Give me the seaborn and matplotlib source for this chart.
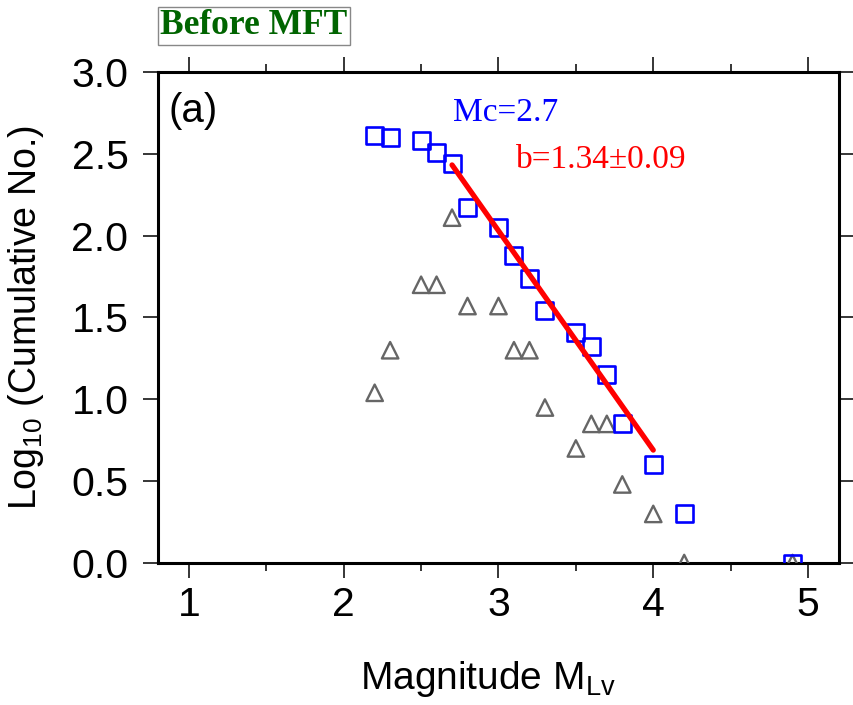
import numpy as np
import pandas as pd
import matplotlib
matplotlib.use("Agg")
import matplotlib.pyplot as plt
import seaborn as sns

# Magnitude bins (M_Lv)
magnitude = [2.2, 2.3, 2.5, 2.6, 2.7, 2.8, 3.0, 3.1, 3.2, 3.3, 3.5, 3.6, 3.7, 3.8, 4.0, 4.2, 4.9]
# log10 of cumulative number of events (M >= bin)
log_cumulative = [2.61, 2.60, 2.58, 2.51, 2.44, 2.17, 2.05, 1.88, 1.74, 1.54, 1.41, 1.32, 1.15, 0.85, 0.60, 0.30, 0.0]
# log10 of the number of events in each bin
log_noncumulative = [1.04, 1.30, 1.70, 1.70, 2.11, 1.57, 1.57, 1.30, 1.30, 0.95, 0.70, 0.85, 0.85, 0.48, 0.30, 0.0, 0.0]

# Gutenberg-Richter fit: log10 N = a - b M, for Mc <= M <= 4.0
mc = 2.7
b_value = 1.34
b_error = 0.09
a_value = 6.05
fit_range = [mc, 4.0]

sns.set_style("ticks")
plt.rcParams["font.family"] = ["Liberation Sans", "DejaVu Sans"]
plt.rcParams["mathtext.fontset"] = "custom"
plt.rcParams["mathtext.rm"] = "Liberation Sans"
plt.rcParams["mathtext.it"] = "Liberation Sans:italic"
plt.rcParams["text.color"] = "black"
plt.rcParams["axes.labelcolor"] = "black"
plt.rcParams["xtick.color"] = "black"
plt.rcParams["ytick.color"] = "black"

df = pd.DataFrame({"M": magnitude, "cum": log_cumulative, "non": log_noncumulative})
fit = pd.DataFrame({"M": fit_range})
fit["logN"] = a_value - b_value * fit["M"]

fig = plt.figure(figsize=(8.54, 7.05), dpi=100)
ax = fig.add_axes([0.185, 0.2014, 0.7974, 0.6965])

sns.scatterplot(data=df, x="M", y="non", marker="^", s=140, facecolor="none",
                edgecolor="#666666", linewidth=1.7, ax=ax, zorder=3)
sns.scatterplot(data=df, x="M", y="cum", marker="s", s=150, facecolor="none",
                edgecolor="#0000ff", linewidth=1.9, ax=ax, zorder=4)
sns.lineplot(data=fit, x="M", y="logN", color="#ff0000", linewidth=3.8, ax=ax, zorder=5)

ax.set_xlim(0.8, 5.2)
ax.set_ylim(0.0, 3.0)
ax.set_xticks([1, 2, 3, 4, 5])
ax.set_xticks([1.5, 2.5, 3.5, 4.5], minor=True)
ax.set_yticks(np.arange(0, 3.01, 0.5))
ax.set_yticklabels([f"{v:.1f}" for v in np.arange(0, 3.01, 0.5)])

for sp in ax.spines.values():
    sp.set_visible(True)
    sp.set_linewidth(2.2)
    sp.set_color("black")

ax.tick_params(axis="both", which="major", direction="out", length=10.8, width=1.1,
               labelsize=29.5, top=True, right=True, labeltop=False, labelright=False)
ax.tick_params(axis="x", which="major", pad=6)
ax.tick_params(axis="y", which="major", pad=10.5)
ax.tick_params(axis="x", which="minor", direction="out", length=6.0, width=1.1,
               top=True, bottom=True)

ax.set_xlabel(r"Magnitude M$_{\mathregular{Lv}}$", fontsize=28, labelpad=25)
ax.xaxis.label.set_x(0.484)
ax.set_ylabel(r"Log$_{\mathregular{10}}$ (Cumulative No.)", fontsize=27, labelpad=18)

ax.text(0.0147, 0.898, "(a)", transform=ax.transAxes, fontsize=29, va="baseline", ha="left")
ax.text(2.708, 2.70, "Mc=2.7", color="#0000ff", fontsize=24,
        family=["Liberation Serif", "DejaVu Serif"], va="baseline", ha="left")
ax.text(3.11, 2.413, f"b={b_value:.2f}\u00b1{b_error:.2f}", color="#ff0000", fontsize=24,
        family=["Liberation Serif", "DejaVu Serif"], va="baseline", ha="left")

fig.text(254 / 854, 1 - 26 / 705, "Before MFT", ha="center", va="center",
         family=["Liberation Serif", "DejaVu Serif"], fontweight="bold", color="#006400",
         fontsize=25.5, bbox=dict(boxstyle="square,pad=0.08", fc="white", ec="#888888", lw=1.0))

fig.savefig("out.png", dpi=100)
